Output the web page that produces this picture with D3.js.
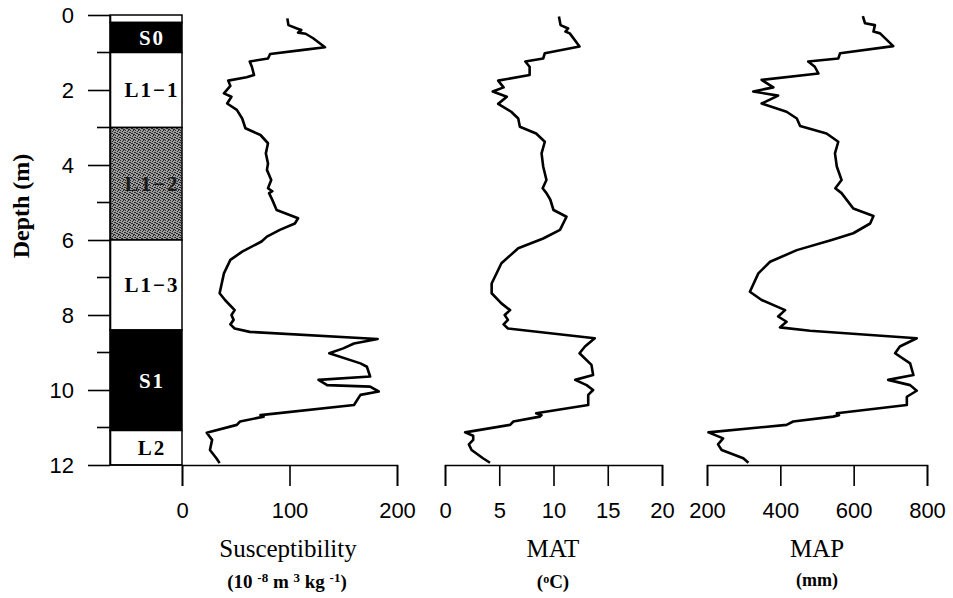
<!DOCTYPE html>
<html>
<head>
<meta charset="utf-8">
<script src="https://cdn.jsdelivr.net/npm/d3@7"></script>
<style>
  body { margin: 0; background: #fff; }
  svg { display: block; }
</style>
</head>
<body>
<div id="chart"></div>
<script>
// depth (m), value pairs
const susProfile = [[0.09,98],[0.27,99],[0.36,107],[0.40,111],[0.47,108],[0.50,115],[0.62,122],[0.86,133],[0.93,113],[1.04,82],[1.16,80],[1.24,63],[1.38,65],[1.60,67],[1.66,60],[1.75,43],[1.89,45],[2.09,39],[2.18,46],[2.36,42],[2.53,51],[2.76,56],[3.02,59],[3.20,73],[3.42,80],[3.69,78],[3.96,80],[4.13,79],[4.40,83],[4.62,80],[4.70,84],[4.75,81],[4.93,84],[5.20,88],[5.42,108],[5.56,105],[5.73,91],[5.91,79],[6.04,74],[6.31,56],[6.53,45],[6.89,39],[7.42,35],[7.60,40],[7.87,49],[8.00,46],[8.13,48],[8.25,45],[8.36,49],[8.45,63],[8.64,182],[8.76,160],[8.89,150],[9.02,137],[9.29,166],[9.38,172],[9.64,175],[9.73,127],[9.87,135],[9.91,175],[10.04,183],[10.13,166],[10.40,160],[10.67,73],[10.71,76],[10.84,54],[10.93,51],[11.14,23],[11.33,28],[11.60,26],[11.82,32],[11.95,35]];

const matProfile = [[0.04,10.5],[0.27,10.65],[0.36,11.35],[0.44,11.1],[0.49,11.5],[0.84,12.4],[1.02,9.2],[1.16,9.05],[1.24,7.4],[1.38,7.8],[1.60,7.8],[1.75,4.9],[1.93,5.4],[2.04,4.4],[2.18,5.7],[2.37,4.9],[2.58,6.1],[2.76,6.75],[2.98,6.9],[3.16,8.4],[3.38,9.2],[3.69,8.9],[4.04,9.05],[4.40,9.35],[4.62,9.0],[4.75,9.35],[4.92,9.7],[5.20,10.0],[5.38,11.2],[5.73,10.6],[5.96,9.05],[6.22,6.75],[6.62,5.2],[7.16,4.3],[7.42,4.3],[7.69,5.2],[7.87,6.0],[8.00,5.5],[8.13,5.8],[8.25,5.4],[8.36,5.8],[8.62,13.8],[8.84,12.9],[9.02,12.4],[9.33,13.5],[9.60,13.65],[9.73,12.0],[9.87,13.05],[10.0,13.65],[10.13,13.2],[10.40,13.2],[10.62,8.4],[10.67,8.9],[10.71,8.75],[10.84,6.3],[10.93,6.0],[11.13,1.85],[11.22,2.6],[11.33,2.6],[11.45,2.2],[11.60,2.45],[11.82,3.5],[11.94,4.15]];

const mapProfile = [[0.03,625],[0.22,631],[0.27,658],[0.44,654],[0.49,672],[0.83,708],[1.02,563],[1.16,558],[1.24,476],[1.38,494],[1.56,504],[1.73,349],[1.93,381],[2.04,326],[2.15,394],[2.36,349],[2.58,417],[2.76,445],[2.96,454],[3.16,526],[3.38,558],[3.69,549],[4.04,554],[4.40,567],[4.62,550],[4.75,567],[4.93,581],[5.16,599],[5.36,654],[5.56,645],[5.82,599],[6.0,540],[6.27,445],[6.58,372],[6.89,340],[7.38,317],[7.60,349],[7.87,413],[8.04,394],[8.18,417],[8.33,399],[8.42,481],[8.62,772],[8.84,726],[9.02,713],[9.29,754],[9.60,763],[9.73,694],[9.87,754],[10.02,772],[10.18,745],[10.40,745],[10.62,554],[10.67,560],[10.71,544],[10.84,435],[10.93,417],[11.13,204],[11.29,244],[11.45,230],[11.60,240],[11.82,299],[11.94,313]];

// stratigraphic units: name, top, bottom, kind
const units = [['', 0, 0.2, 'loess'], ['S0', 0.2, 1.0, 'soil'], ['L1\u22121', 1.0, 3.0, 'loess'], ['L1\u22122', 3.0, 6.0, 'grey'], ['L1\u22123', 6.0, 8.4, 'loess'], ['S1', 8.4, 11.08, 'soil'], ['L2', 11.08, 12, 'loess']];

const depthTicks = [0, 2, 4, 6, 8, 10, 12];
const depthMinor = [1, 3, 5, 7, 9, 11];
const susTicks = [0, 100, 200];
const matTicks = [0, 5, 10, 15, 20];
const mapTicks = [200, 400, 600, 800];

const W = 953, H = 598;
const svg = d3.select('#chart').append('svg').attr('width', W).attr('height', H);

const y = d3.scaleLinear([0, 12], [15, 465]);
const xSus = d3.scaleLinear([0, 200], [182, 397]);
const xMat = d3.scaleLinear([0, 20], [445, 662]);
const xMap = d3.scaleLinear([200, 800], [707, 927]);
const colLeft = 110, colRight = 182;
const serif = 'Liberation Serif, Times New Roman, serif';

// stipple for the grey loess unit
const pat = svg.append('defs').append('pattern')
    .attr('id', 'stip').attr('patternUnits', 'userSpaceOnUse')
    .attr('width', 5).attr('height', 5);
pat.append('rect').attr('width', 5).attr('height', 5).attr('fill', '#9c9c9c');
[[0,0],[2,1],[4,2],[1,3],[3,4],[0,2],[3,0],[2,3],[4,4]].forEach(p =>
    pat.append('rect').attr('x', p[0]).attr('y', p[1]).attr('width', 1).attr('height', 1).attr('fill', '#2a2a2a'));

const fills = { soil: '#000', loess: '#fff', grey: 'url(#stip)' };
const col = svg.append('g');
col.selectAll('rect').data(units).join('rect')
    .attr('x', colLeft).attr('width', colRight - colLeft)
    .attr('y', d => y(d[1])).attr('height', d => y(d[2]) - y(d[1]))
    .attr('fill', d => fills[d[3]])
    .attr('stroke', '#000').attr('stroke-width', 1.5);
col.selectAll('text').data(units.filter(d => d[0])).join('text')
    .attr('x', 152).attr('y', d => (y(d[1]) + y(d[2])) / 2)
    .attr('dy', '0.35em')
    .attr('text-anchor', 'middle')
    .attr('font-family', serif)
    .attr('font-size', 21).attr('font-weight', 'bold')
    .attr('letter-spacing', 2)
    .attr('fill', d => d[3] === 'soil' ? '#fff' : (d[3] === 'grey' ? '#1a1a1a' : '#000'))
    .text(d => d[0]);

const tickFont = g => g.selectAll('text')
    .attr('font-family', 'Liberation Sans, Arial, sans-serif')
    .attr('font-size', 22).attr('fill', '#000');
const axisStyle = g => g.selectAll('path, line').attr('stroke', '#000').attr('stroke-width', 1.6);

// depth axis
svg.append('g').attr('transform', `translate(${colLeft},0)`)
    .call(d3.axisLeft(y).tickValues(depthTicks).tickSize(22).tickSizeOuter(0).tickPadding(14))
    .call(tickFont).call(axisStyle);
svg.append('g').attr('transform', `translate(${colLeft},0)`)
    .selectAll('line').data(depthMinor).join('line')
    .attr('x1', -13).attr('x2', 0).attr('y1', d => y(d)).attr('y2', d => y(d))
    .attr('stroke', '#000').attr('stroke-width', 1.6);

// bottom axes
const bottom = [[xSus, susTicks], [xMat, matTicks], [xMap, mapTicks]];
bottom.forEach(([sc, tv]) => {
  svg.append('g').attr('transform', 'translate(0,465)')
    .call(d3.axisBottom(sc).tickValues(tv).tickSize(21).tickSizeOuter(21).tickPadding(16).tickFormat(d3.format('d')))
    .call(tickFont).call(axisStyle);
});
svg.append('line').attr('x1', colLeft).attr('x2', colRight).attr('y1', 465).attr('y2', 465)
    .attr('stroke', '#000').attr('stroke-width', 1.6);

// curves
const curves = [[susProfile, xSus], [matProfile, xMat], [mapProfile, xMap]];
curves.forEach(([data, sc]) => {
  svg.append('path').datum(data)
    .attr('fill', 'none').attr('stroke', '#000').attr('stroke-width', 2.6)
    .attr('stroke-linejoin', 'round')
    .attr('d', d3.line().x(d => sc(d[1])).y(d => y(d[0])));
});

// titles
svg.append('text')
    .attr('transform', 'translate(29,206) rotate(-90)')
    .attr('text-anchor', 'middle')
    .attr('font-family', serif)
    .attr('font-size', 24).attr('font-weight', 'bold')
    .text('Depth (m)');

const titles = [['Susceptibility', 288], ['MAT', 553], ['MAP', 817]];
svg.selectAll('text.ttl').data(titles).join('text').attr('class', 'ttl')
    .attr('x', d => d[1]).attr('y', 557).attr('text-anchor', 'middle')
    .attr('font-family', serif).attr('font-size', 25)
    .text(d => d[0]);

// unit lines with superscripts
const units1 = svg.append('text').attr('x', 287).attr('y', 588).attr('text-anchor', 'middle')
    .attr('font-family', serif).attr('font-size', 19).attr('font-weight', 'bold');
[['(10 ', false], ['-8', true], [' m ', false], ['3', true], [' kg ', false], ['-1', true], [')', false]]
  .forEach(([t, sup]) => {
    const ts = units1.append('tspan').text(t);
    if (sup) ts.attr('font-size', 13).attr('baseline-shift', '45%');
  });
const units2 = svg.append('text').attr('x', 553).attr('y', 588).attr('text-anchor', 'middle')
    .attr('font-family', serif).attr('font-size', 19).attr('font-weight', 'bold');
units2.append('tspan').text('(');
units2.append('tspan').text('o').attr('font-size', 12).attr('baseline-shift', '45%');
units2.append('tspan').text('C)');
svg.append('text').attr('x', 817).attr('y', 586).attr('text-anchor', 'middle')
    .attr('font-family', serif).attr('font-size', 18).attr('font-weight', 'bold')
    .text('(mm)');
</script>
</body>
</html>
